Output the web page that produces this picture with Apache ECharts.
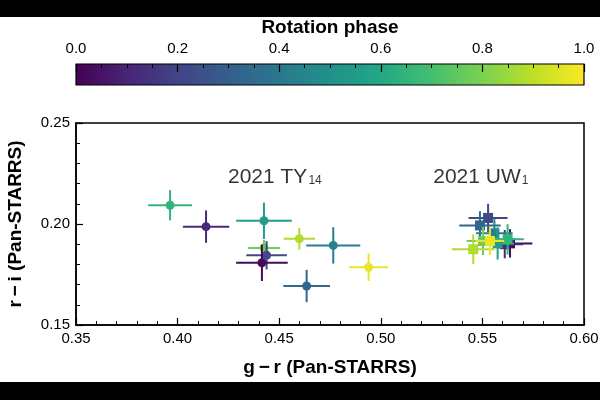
<!DOCTYPE html>
<html><head><meta charset="utf-8">
<script src="https://cdn.jsdelivr.net/npm/echarts@6/dist/echarts.min.js"></script>
<style>html,body{margin:0;padding:0;background:#fff}#c{width:600px;height:400px}</style>
</head><body><div id="c"></div>
<script>
// 2021 TY14
const ty14_gr     = [0.3963, 0.4140, 0.4425, 0.4599, 0.4766, 0.4940, 0.4425, 0.4438, 0.4415, 0.4635];
const ty14_grErr  = [0.0108, 0.0114, 0.0137, 0.0077, 0.0133, 0.0096, 0.0079, 0.0100, 0.0127, 0.0115];
const ty14_ri     = [0.2093, 0.1987, 0.2016, 0.1927, 0.1894, 0.1786, 0.1881, 0.1845, 0.1808, 0.1693];
const ty14_riErr  = [0.0075, 0.0080, 0.0090, 0.0054, 0.0090, 0.0068, 0.0040, 0.0070, 0.0090, 0.0080];
const ty14_phase  = [0.65, 0.12, 0.55, 0.88, 0.43, 0.97, 0.77, 0.22, 0.02, 0.33];
// 2021 UW1
const uw1_gr      = [0.5636, 0.5610, 0.5528, 0.5488, 0.5559, 0.5575, 0.5624, 0.5503, 0.5455, 0.5537];
const uw1_grErr   = [0.0110, 0.0090, 0.0096, 0.0102, 0.0090, 0.0080, 0.0080, 0.0080, 0.0105, 0.0070];
const uw1_ri      = [0.1904, 0.1900, 0.2030, 0.1993, 0.1954, 0.1904, 0.1924, 0.1916, 0.1875, 0.1916];
const uw1_riErr   = [0.0070, 0.0070, 0.0070, 0.0070, 0.0070, 0.0080, 0.0075, 0.0070, 0.0074, 0.0070];
const uw1_phase   = [0.02, 0.12, 0.22, 0.33, 0.43, 0.55, 0.65, 0.77, 0.88, 0.97];
// axes / ticks
const xTicks = [0.35, 0.40, 0.45, 0.50, 0.55, 0.60];
const yTicks = [0.15, 0.20, 0.25];
const cbTicks = [0.0, 0.2, 0.4, 0.6, 0.8, 1.0];
// annotations [gr, ri, main, sub]
const labels = [[0.4248, 0.2233, '2021 TY', '14'], [0.5258, 0.2233, '2021 UW', '1']];

const viridis = ['#440154','#482475','#414487','#355f8d','#2a788e','#21918c','#22a884','#44bf70','#7ad151','#bddf26','#fde725'];
const FONT = '"Liberation Sans", Arial, sans-serif';

function rows(gr, ge, ri, re, ph){ return gr.map((v,i)=>[v, ri[i], ge[i], re[i], ph[i]]); }

function makeRender(shape){
  return function(params, api){
    const x=api.value(0), y=api.value(1), ex=api.value(2), ey=api.value(3);
    const c = api.visual('color');
    const a=api.coord([x-ex,y]), b=api.coord([x+ex,y]), u=api.coord([x,y+ey]), d=api.coord([x,y-ey]), p=api.coord([x,y]);
    const ls = {stroke:c, lineWidth:2};
    const marker = shape==='circle'
      ? {type:'circle', shape:{cx:p[0], cy:p[1], r:4.5}, style:{fill:c}}
      : {type:'rect', shape:{x:p[0]-5, y:p[1]-5, width:10, height:10}, style:{fill:c}};
    return {type:'group', children:[
      {type:'line', shape:{x1:a[0],y1:a[1],x2:b[0],y2:b[1]}, style:ls},
      {type:'line', shape:{x1:u[0],y1:u[1],x2:d[0],y2:d[1]}, style:ls},
      marker
    ]};
  };
}

const chart = echarts.init(document.getElementById('c'), null, {renderer:'canvas'});
const tickLabel = {color:'#000', fontFamily:FONT, fontSize:15};
const nameStyle = {color:'#000', fontFamily:FONT, fontSize:19, fontWeight:'bold'};
chart.setOption({
  backgroundColor:'#fff',
  animation:false,
  textStyle:{fontFamily:FONT},
  grid:[
    {left:76, right:16, top:123, height:202, containLabel:false, outerBoundsMode:'none',
     show:true, borderColor:'#000', borderWidth:1.5, backgroundColor:'transparent'},
    {left:76, right:16, top:64, height:21, containLabel:false, outerBoundsMode:'none'}
  ],
  visualMap:{type:'continuous', show:false, min:0, max:1, dimension:4, seriesIndex:[0,1], inRange:{color:viridis}},
  xAxis:[
    {gridIndex:0, type:'value', min:0.35, max:0.60, interval:0.05,
     axisLine:{onZero:false, lineStyle:{color:'#000', width:1.5}},
     axisTick:{inside:true, length:7, lineStyle:{color:'#000', width:1.2}},
     minorTick:{show:true, splitNumber:5, length:4, lineStyle:{color:'#000', width:1}},
     splitLine:{show:false},
     axisLabel:Object.assign({margin:6, formatter:v=>xTicks.some(t=>Math.abs(t-v)<1e-9)?v.toFixed(2):''}, tickLabel),
     name:'g\u2009\u2212\u2009r (Pan-STARRS)', nameLocation:'middle', nameGap:33, nameMoveOverlap:false,
     nameTextStyle:nameStyle},
    {gridIndex:1, type:'value', position:'top', min:0, max:1, interval:0.2, z:10,
     axisLine:{show:false, onZero:false},
     axisTick:{inside:true, length:8, lineStyle:{color:'#000', width:1.2}},
     minorTick:{show:true, splitNumber:4, length:4, lineStyle:{color:'#000', width:1}},
     splitLine:{show:false},
     axisLabel:Object.assign({margin:8, formatter:v=>cbTicks.some(t=>Math.abs(t-v)<1e-9)?v.toFixed(1):''}, tickLabel),
     name:'Rotation phase', nameLocation:'middle', nameGap:27, nameMoveOverlap:false,
     nameTextStyle:nameStyle}
  ],
  yAxis:[
    {gridIndex:0, type:'value', min:0.15, max:0.25, interval:0.05,
     axisLine:{onZero:false, lineStyle:{color:'#000', width:1.5}},
     axisTick:{inside:true, length:7, lineStyle:{color:'#000', width:1.2}},
     minorTick:{show:true, splitNumber:5, length:4, lineStyle:{color:'#000', width:1}},
     splitLine:{show:false},
     axisLabel:Object.assign({margin:6, formatter:v=>yTicks.some(t=>Math.abs(t-v)<1e-9)?v.toFixed(2):''}, tickLabel),
     name:'r\u2009\u2212\u2009i (Pan-STARRS)', nameLocation:'middle', nameGap:51, nameMoveOverlap:false,
     nameTextStyle:nameStyle},
    {gridIndex:1, type:'value', min:0, max:1, show:false}
  ],
  series:[
    {type:'custom', xAxisIndex:0, yAxisIndex:0, renderItem:makeRender('circle'),
     data:rows(ty14_gr, ty14_grErr, ty14_ri, ty14_riErr, ty14_phase), encode:{x:0,y:1}, z:3},
    {type:'custom', xAxisIndex:0, yAxisIndex:0, renderItem:makeRender('square'),
     data:rows(uw1_gr, uw1_grErr, uw1_ri, uw1_riErr, uw1_phase), encode:{x:0,y:1}, z:3},
    {type:'custom', xAxisIndex:1, yAxisIndex:1, z:1,
     data:[[0,0,1,1]],
     renderItem:function(params, api){
       const p0=api.coord([api.value(0), api.value(1)]), p1=api.coord([api.value(2), api.value(3)]);
       return {type:'rect', shape:{x:p0[0], y:p1[1], width:p1[0]-p0[0], height:p0[1]-p1[1]},
         style:{fill:new echarts.graphic.LinearGradient(0,0,1,0, viridis.map((c,i)=>({offset:i/(viridis.length-1), color:c}))),
                stroke:'#000', lineWidth:1.2}};
     }},
    {type:'scatter', xAxisIndex:0, yAxisIndex:0, symbolSize:0, silent:true,
     data:labels.map(l=>({value:[l[0], l[1]], main:l[2], sub:l[3]})),
     label:{show:true, position:'inside', align:'left', verticalAlign:'middle',
       formatter:p=>'{m|'+p.data.main+'}{s|'+p.data.sub+'}',
       rich:{m:{fontFamily:FONT, fontSize:21, color:'#000'}, s:{fontFamily:FONT, fontSize:12, color:'#000', padding:[8,0,0,1]}}}}
  ],
  graphic:[
    {type:'rect', left:0, top:0, shape:{width:600, height:17}, style:{fill:'#000'}, z:100},
    {type:'rect', left:0, top:382, shape:{width:600, height:18}, style:{fill:'#000'}, z:100}
  ]
});
</script></body></html>
